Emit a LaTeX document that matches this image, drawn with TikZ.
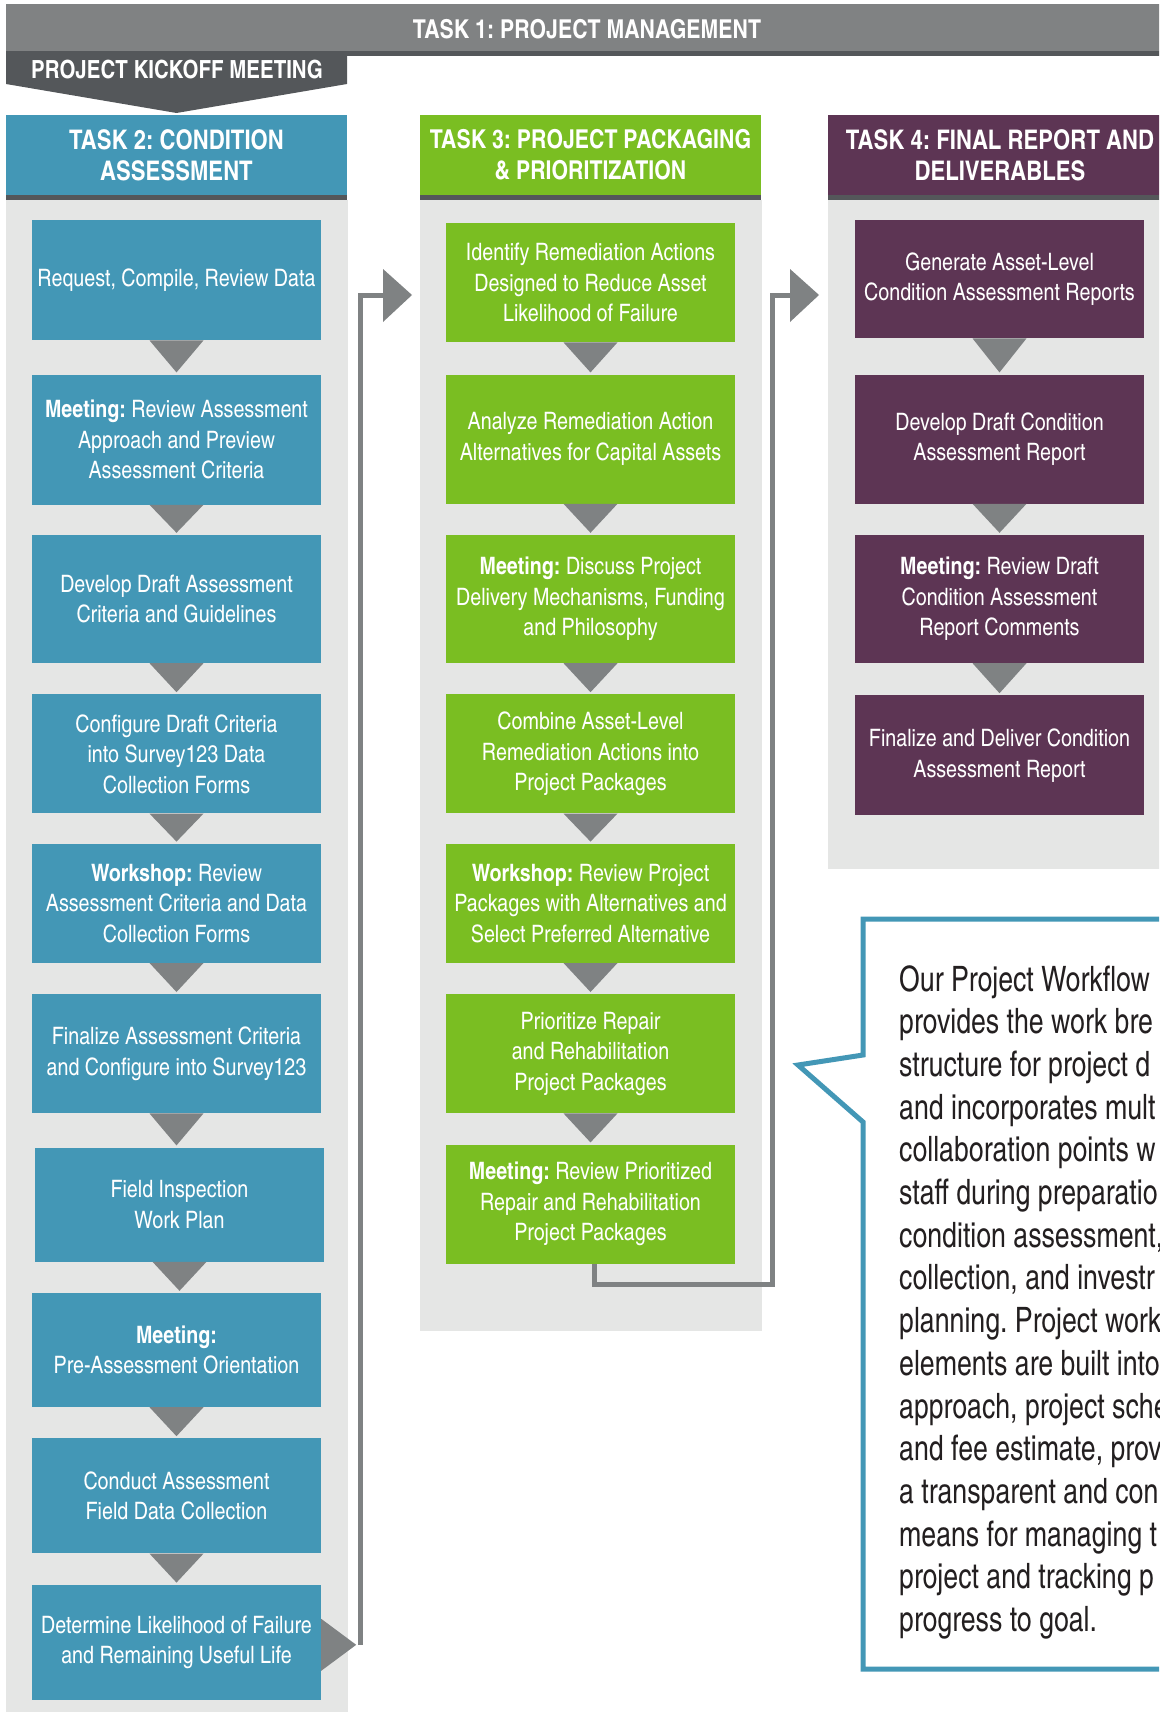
\documentclass[tikz,border=0pt]{standalone}
\usepackage{fontspec}
\setmainfont{TeX Gyre Heros Cn}
\newfontfamily\notefont{TeX Gyre Heros Cn}[FakeStretch=0.93]
\usepackage{tikz}
\usetikzlibrary{positioning, calc}
\frenchspacing
\definecolor{taskblue}{HTML}{4397B6}
\definecolor{taskgreen}{HTML}{7ABE22}
\definecolor{taskpurple}{HTML}{5D3554}
\definecolor{bandgray}{HTML}{808283}
\definecolor{stripgray}{HTML}{54575A}
\definecolor{colbg}{HTML}{E5E6E5}
\definecolor{tipgray}{HTML}{7F8283}
\definecolor{notetext}{HTML}{231F20}

\begin{document}
\begin{tikzpicture}[x=1pt, y=-1pt,
    box/.style={text=white, font=\fontsize{24}{30.5}\selectfont, text width=285pt, inner xsep=2pt, inner ysep=0pt, align=flush center, anchor=north},
    head/.style={text=white, font=\bfseries\fontsize{27}{31}\selectfont, minimum height=80pt, align=center, inner sep=0pt},
    tri/.style={fill=tipgray},
    link/.style={draw=tipgray, line width=5pt},
    note/.style={text=notetext, font=\notefont\fontsize{35}{42.7}\selectfont, align=left, inner sep=0pt, anchor=north west}
  ]
  \useasboundingbox (0,0) rectangle (1159,1712);
  \clip (0,0) rectangle (1159,1712);

  \fill[bandgray] (6,4) rectangle (1175,51);
  \fill[stripgray] (6,51) rectangle (1175,56);
  \node[text=white, font=\bfseries\fontsize{26}{30}\selectfont] (t1) at (587,29) {TASK 1: PROJECT MANAGEMENT};
  \fill[stripgray] (6,52) -- (347,52) -- (347,84) -- (176.5,113) -- (6,84) -- cycle;
  \node[text=white, font=\bfseries\fontsize{25}{30}\selectfont] (kick) at (177,70) {PROJECT KICKOFF MEETING};

  \node[head, fill=taskblue, minimum width=341pt] (t2) at (176.5,155) {TASK 2: CONDITION\\ASSESSMENT};
  \node[head, fill=taskgreen, minimum width=341pt, font=\bfseries\fontsize{26}{31}\selectfont] (t3) at (590.5,155) {TASK 3: PROJECT PACKAGING\\\& PRIORITIZATION};
  \node[head, fill=taskpurple, minimum width=344pt] (t4) at (1000,155) {TASK 4: FINAL REPORT AND\\DELIVERABLES};
  \foreach \h in {t2,t3,t4}
    \fill[stripgray] (\h.south west) rectangle ($(\h.south east)+(0,5)$);
  \fill[colbg] ($(t2.south west)+(0,5)$) rectangle (348,1712);
  \fill[colbg] ($(t3.south west)+(0,5)$) rectangle (762,1331);
  \fill[colbg] ($(t4.south west)+(0,5)$) rectangle (1175,869);

  \node[box, fill=taskblue, minimum height=120pt] (a1) at (176.5,220) {Request, Compile, Review Data};
  \node[box, fill=taskblue, minimum height=130pt, below=34pt of a1] (a2) {\textbf{Meeting:} Review Assessment\\Approach and Preview\\Assessment Criteria};
  \node[box, fill=taskblue, minimum height=128pt, below=30pt of a2] (a3) {Develop Draft Assessment\\Criteria and Guidelines};
  \node[box, fill=taskblue, minimum height=119pt, below=31pt of a3] (a4) {Configure Draft Criteria\\into Survey123 Data\\Collection Forms};
  \node[box, fill=taskblue, minimum height=119pt, below=30pt of a4] (a5) {\textbf{Workshop:} Review\\Assessment Criteria and Data\\Collection Forms};
  \node[box, fill=taskblue, minimum height=119pt, below=31pt of a5] (a6) {Finalize Assessment Criteria\\and Configure into Survey123};
  \node[box, fill=taskblue, minimum height=114pt, below=34pt of a6, xshift=3pt] (a7) {Field Inspection\\Work Plan};
  \node[box, fill=taskblue, minimum height=114pt, below=31pt of a7, xshift=-3pt] (a8) {\textbf{Meeting:}\\Pre-Assessment Orientation};
  \node[box, fill=taskblue, minimum height=115pt, below=31pt of a8] (a9) {Conduct Assessment\\Field Data Collection};
  \node[box, fill=taskblue, minimum height=115pt, below=31pt of a9] (a10) {Determine Likelihood of Failure\\and Remaining Useful Life};

  \node[box, fill=taskgreen, minimum height=119pt] (b1) at (590.5,223) {Identify Remediation Actions\\Designed to Reduce Asset\\Likelihood of Failure};
  \node[box, fill=taskgreen, minimum height=129pt, below=32pt of b1] (b2) {Analyze Remediation Action\\Alternatives for Capital Assets};
  \node[box, fill=taskgreen, minimum height=128pt, below=31pt of b2] (b3) {\textbf{Meeting:} Discuss Project\\Delivery Mechanisms, Funding\\and Philosophy};
  \node[box, fill=taskgreen, minimum height=119pt, below=31pt of b3] (b4) {Combine Asset-Level\\Remediation Actions into\\Project Packages};
  \node[box, fill=taskgreen, minimum height=119pt, below=30pt of b4] (b5) {\textbf{Workshop:} Review Project\\Packages with Alternatives and\\Select Preferred Alternative};
  \node[box, fill=taskgreen, minimum height=119pt, below=31pt of b5] (b6) {Prioritize Repair\\and Rehabilitation\\Project Packages};
  \node[box, fill=taskgreen, minimum height=119pt, below=31pt of b6] (b7) {\textbf{Meeting:} Review Prioritized\\Repair and Rehabilitation\\Project Packages};

  \node[box, fill=taskpurple, minimum height=118pt] (c1) at (999.5,220) {Generate Asset-Level\\Condition Assessment Reports};
  \node[box, fill=taskpurple, minimum height=129pt, below=36pt of c1] (c2) {Develop Draft Condition\\Assessment Report};
  \node[box, fill=taskpurple, minimum height=128pt, below=31pt of c2] (c3) {\textbf{Meeting:} Review Draft\\Condition Assessment\\Report Comments};
  \node[box, fill=taskpurple, minimum height=120pt, below=32pt of c3] (c4) {Finalize and Deliver Condition\\Assessment Report};

  \foreach \p/\n in {a1/a2,a2/a3,a3/a4,a4/a5,a5/a6,a6/a7,a7/a8,a8/a9,a9/a10,b1/b2,b2/b3,b3/b4,b4/b5,b5/b6,b6/b7,c1/c2,c2/c3,c3/c4}
    \fill[tri] ($(\p.south)+(-27,0)$) -- ($(\p.south)+(27,0)$) -- ($(\p.south |- \n.north)+(0,-2)$) -- cycle;

  \fill[tri] ($(a10.east)+(0,-23.5)$) -- ($(a10.east)+(35,2.5)$) -- ($(a10.east)+(0,28.5)$) -- cycle;
  \coordinate (in3) at (383,295);
  \draw[link] ($(a10.east)+(39,2.5)$) |- (in3);
  \fill[tri] ($(in3)+(0,-26)$) -- ($(in3)+(29,0)$) -- ($(in3)+(0,27)$) -- cycle;

  \coordinate (in4) at (790,295);
  \draw[link] ($(b7.south)+(3.5,0)$) |- (772,1284) |- (in4);
  \fill[tri] ($(in4)+(0,-26)$) -- ($(in4)+(29,0)$) -- ($(in4)+(0,27)$) -- cycle;

  \draw[line width=5pt, draw=taskblue, fill=white] (1175,919) -- (863,919) -- (863,1055) -- (798,1065) -- (863,1122) -- (863,1669) -- (1175,1669);
  \node[note] (txt) at (899,965) {Our Project Workflow\\provides the work bre\\structure for project d\\and incorporates mult\\collaboration points w\\staff during preparatio\\condition assessment,\\collection, and investr\\planning. Project work\\elements are built into\\approach, project sche\\and fee estimate, prov\\a transparent and con\\means for managing t\\project and tracking p\\progress to goal.};
\end{tikzpicture}
\end{document}
